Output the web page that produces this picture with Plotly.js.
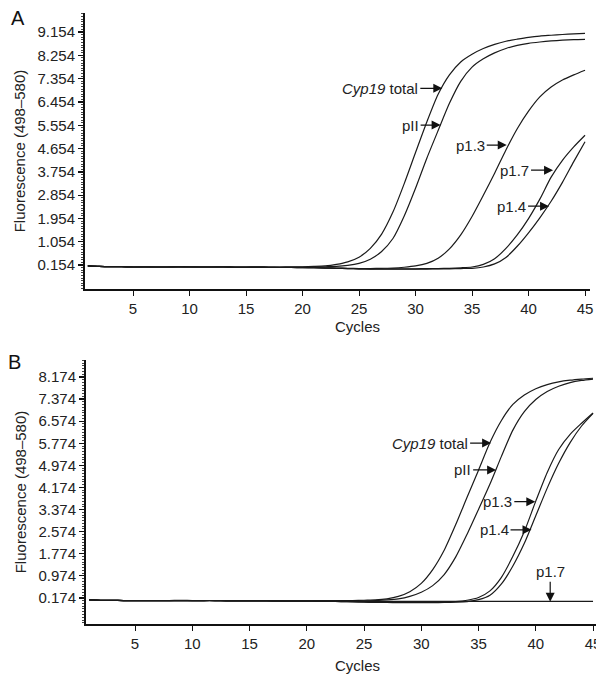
<!DOCTYPE html>
<html><head><meta charset="utf-8">
<script src="https://cdn.plot.ly/plotly-3.0.1.min.js"></script>
<style>html,body{margin:0;padding:0;background:#fff}#chart{width:596px;height:678px}</style>
</head><body><div id="chart"></div>
<script>
const cycles = [1,2,3,4,5,6,7,8,9,10,11,12,13,14,15,16,17,18,19,20,21,22,23,24,25,26,27,28,29,30,31,32,33,34,35,36,37,38,39,40,41,42,43,44,45];

// Panel A
const cyp19A = [0.12,0.10,0.09,0.09,0.08,0.09,0.08,0.08,0.09,0.09, 0.08,0.08,0.09,0.08,0.08,0.09,0.08,0.08,0.09,0.09, 0.10,0.12,0.18,0.28,0.46,0.80,1.35,2.20,3.30,4.50, 5.68,6.75,7.50,8.00,8.30,8.52,8.68,8.80,8.88,8.95, 9.00,9.03,9.06,9.08,9.10];
const pIIA   = [0.12,0.10,0.09,0.09,0.08,0.08,0.08,0.08,0.09,0.08, 0.08,0.08,0.08,0.08,0.08,0.08,0.08,0.08,0.08,0.08, 0.08,0.09,0.10,0.14,0.22,0.38,0.68,1.18,2.05,3.12, 4.28,5.35,6.40,7.25,7.80,8.12,8.35,8.52,8.64,8.72, 8.77,8.81,8.84,8.86,8.87];
const p13A   = [0.12,0.10,0.09,0.09,0.08,0.08,0.08,0.08,0.08,0.08, 0.08,0.08,0.08,0.07,0.07,0.07,0.07,0.06,0.06,0.06, 0.05,0.05,0.04,0.03,0.02,0.02,0.03,0.04,0.07,0.12, 0.22,0.42,0.78,1.32,2.03,2.85,3.70,4.60,5.42,6.10, 6.65,7.03,7.30,7.50,7.68];
const p17A   = [0.12,0.10,0.09,0.09,0.08,0.08,0.08,0.08,0.08,0.08, 0.08,0.08,0.08,0.07,0.07,0.07,0.06,0.06,0.06,0.05, 0.05,0.04,0.03,0.02,0.01,0.01,0.01,0.01,0.01,0.01, 0.02,0.02,0.03,0.05,0.08,0.18,0.40,0.80,1.32,1.95, 2.70,3.55,4.20,4.72,5.17];
const p14A   = [0.12,0.10,0.09,0.09,0.08,0.08,0.08,0.08,0.08,0.08, 0.08,0.08,0.08,0.07,0.07,0.07,0.06,0.06,0.06,0.05, 0.05,0.04,0.03,0.02,0.01,0.00,0.00,0.00,0.00,0.00, 0.00,0.01,0.01,0.02,0.03,0.08,0.20,0.45,0.88,1.40, 1.98,2.62,3.35,4.15,4.92];

// Panel B
const cyp19B = [0.10,0.09,0.09,0.08,0.08,0.08,0.08,0.08,0.09,0.08, 0.08,0.08,0.08,0.08,0.08,0.08,0.08,0.08,0.08,0.08, 0.08,0.08,0.08,0.08,0.09,0.10,0.14,0.23,0.40,0.70, 1.20,1.90,2.82,3.82,4.80,5.80,6.60,7.18,7.52,7.75, 7.90,8.00,8.06,8.10,8.13];
const pIIB   = [0.10,0.09,0.09,0.08,0.08,0.08,0.08,0.08,0.08,0.08, 0.08,0.08,0.08,0.08,0.08,0.08,0.08,0.08,0.08,0.08, 0.08,0.08,0.07,0.07,0.07,0.08,0.10,0.14,0.23,0.38, 0.62,1.02,1.65,2.48,3.38,4.30,5.30,6.25,6.92,7.36, 7.65,7.84,7.97,8.05,8.10];
const p13B   = [0.10,0.09,0.09,0.08,0.08,0.08,0.08,0.08,0.08,0.08, 0.08,0.08,0.07,0.07,0.07,0.07,0.06,0.06,0.06,0.06, 0.05,0.05,0.04,0.04,0.03,0.02,0.02,0.01,0.01,0.01, 0.01,0.02,0.04,0.09,0.19,0.43,0.92,1.68,2.58,3.68, 4.72,5.55,6.10,6.50,6.87];
const p14B   = [0.10,0.09,0.09,0.08,0.08,0.08,0.08,0.08,0.08,0.08, 0.08,0.08,0.07,0.07,0.07,0.07,0.06,0.06,0.06,0.06, 0.05,0.05,0.04,0.03,0.02,0.01,0.01,0.00,0.00,0.00, 0.00,0.01,0.02,0.04,0.11,0.27,0.68,1.33,2.15,3.15, 4.15,5.05,5.80,6.40,6.86];
const p17B   = [0.10,0.09,0.09,0.08,0.08,0.08,0.08,0.08,0.08,0.08, 0.08,0.08,0.07,0.07,0.07,0.07,0.07,0.06,0.06,0.06, 0.06,0.06,0.05,0.05,0.05,0.05,0.05,0.05,0.05,0.05, 0.05,0.05,0.05,0.05,0.05,0.05,0.05,0.05,0.05,0.05, 0.05,0.05,0.05,0.05,0.05];

const xTicks = [5,10,15,20,25,30,35,40,45];
const yTicksA = [0.154,1.054,1.954,2.854,3.754,4.654,5.554,6.454,7.354,8.254,9.154];
const yTicksB = [0.174,0.974,1.774,2.574,3.374,4.174,4.974,5.774,6.574,7.374,8.174];

const labelsA = ['<i>Cyp19</i> total','pII','p1.3','p1.7','p1.4'];
const labelXA = [32.37,32.22,38.07,42.17,41.82];
const labelYA = [6.98,5.56,4.79,3.82,2.43];
const labelsB = ['<i>Cyp19</i> total','pII','p1.3','p1.4','p1.7'];
const labelXB = [36.1,36.54,39.96,39.63,41.26];
const labelYB = [5.78,4.81,3.66,2.64,0.04];

const FONT = 'Liberation Sans, Arial, Helvetica, sans-serif';
const lineStyle = {color:'#1a1a1a', width:1.2, shape:'spline', smoothing:0.7};

const traces = [];
[cyp19A,pIIA,p13A,p17A,p14A].forEach(s => traces.push({x:cycles, y:s, xaxis:'x', yaxis:'y', type:'scatter', mode:'lines', line:lineStyle, hoverinfo:'skip', showlegend:false}));
[cyp19B,pIIB,p13B,p14B,p17B].forEach(s => traces.push({x:cycles, y:s, xaxis:'x2', yaxis:'y2', type:'scatter', mode:'lines', line:lineStyle, hoverinfo:'skip', showlegend:false}));

const W = 596, H = 678;
function xAxis(domain, range, anchor){
  return {domain:domain, range:range, anchor:anchor, tickmode:'array', tickvals:xTicks, ticktext:xTicks.map(String),
    ticks:'outside', ticklen:5, tickwidth:1, tickcolor:'#111', showline:true, linewidth:2, linecolor:'#111',
    ticklabeloverflow:'allow', showgrid:false, zeroline:false, tickfont:{family:FONT, size:15, color:'#222'}};
}
function yAxis(domain, range, anchor, vals){
  return {domain:domain, range:range, anchor:anchor, tickmode:'array', tickvals:vals, ticktext:vals.map(v=>v.toFixed(3)),
    ticks:'outside', ticklen:5, tickwidth:1.3, tickcolor:'#111', showline:true, linewidth:2, linecolor:'#111',
    minor:{tickmode:'linear', tick0:vals[0], dtick:0.1, ticks:'outside', ticklen:2.5, tickwidth:1, tickcolor:'#444', showgrid:false},
    showgrid:false, zeroline:false, tickfont:{family:FONT, size:15, color:'#222'},
    title:{text:'Fluorescence (498–580)', font:{family:FONT, size:15, color:'#222'}, standoff:8}};
}

const annotations = [];
const axA = [-22,-20,-20,-22,-21];
labelsA.forEach((t,i)=>annotations.push({x:labelXA[i], y:labelYA[i], xref:'x', yref:'y', text:t, showarrow:true,
  ax:axA[i], ay:0, xanchor:'right', yanchor:'middle', arrowhead:2, arrowsize:1.5, arrowwidth:1.2, arrowcolor:'#111',
  font:{family:FONT, size:15, color:'#222'}}));
const axB = [-21,-23,-21,-21,0], ayB = [0,0,0,0,-20];
labelsB.forEach((t,i)=>annotations.push({x:labelXB[i], y:labelYB[i], xref:'x2', yref:'y2', text:t, showarrow:true,
  ax:axB[i], ay:ayB[i], xanchor: i===4?'center':'right', yanchor: i===4?'bottom':'middle', arrowhead:2, arrowsize:1.5, arrowwidth:1.2, arrowcolor:'#111',
  font:{family:FONT, size:15, color:'#222'}}));
// axis titles "Cycles" (placed where the original figure has them)
annotations.push({x:357/W, y:1-326/H, xref:'paper', yref:'paper', text:'Cycles', showarrow:false, xanchor:'center', yanchor:'middle', font:{family:FONT, size:15, color:'#222'}});
annotations.push({x:357/W, y:1-665/H, xref:'paper', yref:'paper', text:'Cycles', showarrow:false, xanchor:'center', yanchor:'middle', font:{family:FONT, size:15, color:'#222'}});
// panel letters
annotations.push({x:18/W, y:1-18/H, xref:'paper', yref:'paper', text:'A', showarrow:false, xanchor:'center', yanchor:'middle', font:{family:FONT, size:20, color:'#111'}});
annotations.push({x:15/W, y:1-362/H, xref:'paper', yref:'paper', text:'B', showarrow:false, xanchor:'center', yanchor:'middle', font:{family:FONT, size:20, color:'#111'}});

const layout = {
  width:W, height:H, margin:{l:0,r:0,t:0,b:0}, paper_bgcolor:'#fff', plot_bgcolor:'#fff',
  font:{family:FONT, color:'#222'}, showlegend:false,
  xaxis: xAxis([85/W, 590/W], [0.75, 45.44], 'y'),
  yaxis: yAxis([1-289/H, 1-13/H], [-0.77, 9.89], 'x', yTicksA),
  xaxis2: xAxis([86/W, 1], [0.72, 45.26], 'y2'),
  yaxis2: yAxis([1-624/H, 1-360/H], [-0.77, 8.79], 'x2', yTicksB),
  annotations: annotations
};
Plotly.newPlot('chart', traces, layout, {staticPlot:true, displayModeBar:false});
</script></body></html>
